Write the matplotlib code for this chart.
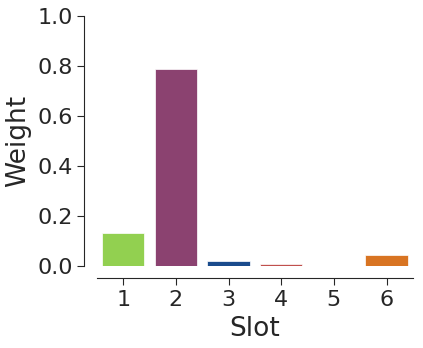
import matplotlib
matplotlib.use("Agg")
import matplotlib.pyplot as plt
import seaborn as sns
import numpy as np

slots = ["1", "2", "3", "4", "5", "6"]
weights = [0.13, 0.788, 0.02, 0.008, 0.0, 0.042]
colors = ["#92d050", "#8b4270", "#1a4b8c", "#c0504d", "#8c8c8c", "#d87422"]

sns.set_style("ticks")
plt.rcParams['font.family'] = ['DejaVu Sans']

fig = plt.figure(figsize=(4.23, 3.48), dpi=100)
ax = fig.add_axes([0.229, 0.236, 0.747, 0.718])

x = np.arange(len(slots))
ax.bar(x, weights, width=0.8, color=colors, edgecolor="white", linewidth=0.5)
ax.set_xlim(-0.5, 5.5)
ax.set_ylim(0, 1.0)
ax.set_xticks(x)
ax.set_xticklabels(slots)
ax.set_yticks([0.0, 0.2, 0.4, 0.6, 0.8, 1.0])
ax.tick_params(labelsize=16, colors="#262626", length=5)
ax.set_xlabel("Slot", fontsize=19, color="#262626")
ax.set_ylabel("Weight", fontsize=19, color="#262626")

sns.despine(ax=ax)
ax.spines["left"].set_position(("outward", 9))
ax.spines["bottom"].set_position(("outward", 9))

fig.savefig("out.png", dpi=100)
